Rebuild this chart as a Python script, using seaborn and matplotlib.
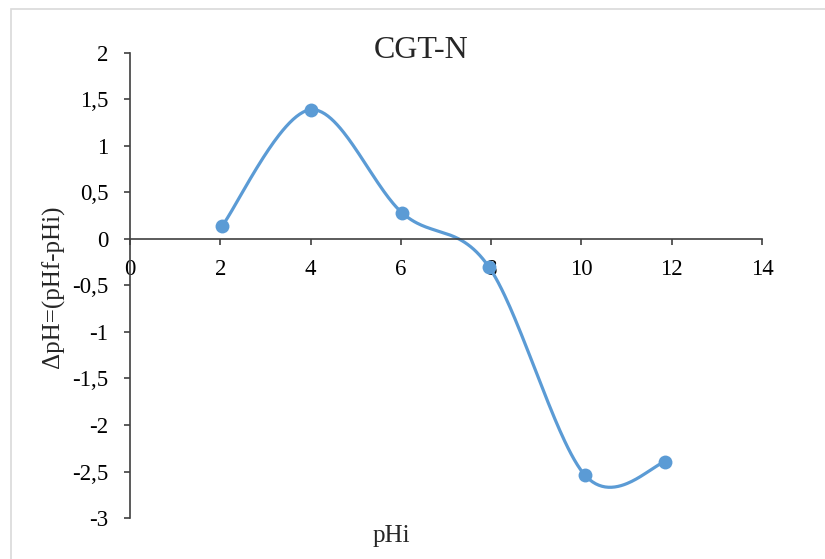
import numpy as np
import pandas as pd
import matplotlib
matplotlib.use("Agg")
import matplotlib.pyplot as plt
import seaborn as sns
from matplotlib.patches import Rectangle

# data
ph_initial = [2.04, 4.01, 6.03, 7.95, 10.08, 11.85]
delta_ph = [0.14, 1.39, 0.28, -0.30, -2.54, -2.40]

x_ticks = [0, 2, 4, 6, 8, 10, 12, 14]
y_ticks = [-3, -2.5, -2, -1.5, -1, -0.5, 0, 0.5, 1, 1.5, 2]

LINE_COLOR = "#5B9BD5"
AXIS_COLOR = "#404040"


def excel_smooth(xs, ys, n=60):
    # bezier smoothing like excel's "smoothed line" option
    pts = np.column_stack([xs, ys])
    padded = np.vstack([pts[0], pts, pts[-1]])
    out = []
    for i in range(len(pts) - 1):
        p0, p1, p2, p3 = padded[i], padded[i + 1], padded[i + 2], padded[i + 3]
        c1 = p1 + (p2 - p0) / 6
        c2 = p2 - (p3 - p1) / 6
        t = np.linspace(0, 1, n)[:, None]
        seg = ((1 - t) ** 3) * p1 + 3 * ((1 - t) ** 2) * t * c1 \
            + 3 * (1 - t) * t ** 2 * c2 + t ** 3 * p2
        out.append(seg if i == 0 else seg[1:])
    return np.vstack(out)


sns.set_style("white")
plt.rcParams["font.family"] = ["Liberation Serif", "DejaVu Serif"]

fig = plt.figure(figsize=(8.25, 5.59), dpi=100)
ax = fig.add_axes([0.1576, 0.0733, 0.766, 0.832])

# chart area border
fig.patches.append(Rectangle((11 / 825, -0.01), 1.0, 1 - 9 / 559 + 0.01,
                             transform=fig.transFigure, fill=False,
                             edgecolor="#D9D9D9", linewidth=1.2))

df = pd.DataFrame({"pHi": ph_initial, "dpH": delta_ph})
curve = excel_smooth(df["pHi"].values, df["dpH"].values)
ax.plot(curve[:, 0], curve[:, 1], color=LINE_COLOR, linewidth=2.3,
        solid_capstyle="round", zorder=2)
sns.scatterplot(data=df, x="pHi", y="dpH", ax=ax, color=LINE_COLOR,
                s=100, edgecolor=LINE_COLOR, linewidth=0, zorder=3)

ax.set_xlim(0, 14)
ax.set_ylim(-3, 2)
ax.set_xticks(x_ticks)
ax.set_yticks(y_ticks)
ax.set_xticklabels([str(v) for v in x_ticks])
ax.set_yticklabels([("%g" % v).replace(".", ",") for v in y_ticks])

for side in ["top", "right"]:
    ax.spines[side].set_visible(False)
ax.spines["left"].set_position(("data", 0))
ax.spines["bottom"].set_position(("data", 0))
for side in ["left", "bottom"]:
    ax.spines[side].set_color(AXIS_COLOR)
    ax.spines[side].set_linewidth(1.2)

ax.tick_params(axis="x", bottom=True, direction="out", length=4.5, width=1.2,
               color=AXIS_COLOR, pad=10, labelsize=16.5, labelcolor="black")
ax.tick_params(axis="y", left=True, direction="out", length=4.5, width=1.2,
               color=AXIS_COLOR, pad=11, labelsize=16.5, labelcolor="black")
ax.grid(False)

ax.set_xlabel("")
ax.set_ylabel("")
fig.text(391 / 825, 1 - 536 / 559, "pHi", ha="center", va="center", fontsize=18)
fig.text(53 / 825, 1 - 287 / 559, "ΔpH=(pHf-pHi)", ha="center", va="center",
         rotation=90, fontsize=18)
fig.text(421 / 825, 1 - 50 / 559, "CGT-N", ha="center", va="center", fontsize=23)

fig.savefig("out.png", dpi=100)
